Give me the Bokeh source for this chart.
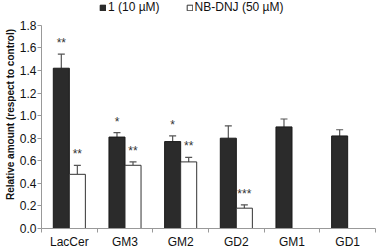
from bokeh.plotting import figure
from bokeh.models import (ColumnDataSource, FixedTicker, Range1d, Whisker, TeeHead,
                          Legend, LegendItem)
from bokeh.transform import dodge
from bokeh.core.properties import value
from bokeh.embed import file_html
from bokeh.resources import INLINE

categories = ["LacCer", "GM3", "GM2", "GD2", "GM1", "GD1"]
cmpd1 = [1.42, 0.81, 0.77, 0.80, 0.90, 0.82]
cmpd1_err = [0.125, 0.04, 0.05, 0.11, 0.07, 0.055]
cmpd1_sig = ["**", "*", "*", "", "", ""]
nbdnj_cats = ["LacCer", "GM3", "GM2", "GD2"]
nbdnj = [0.48, 0.56, 0.59, 0.18]
nbdnj_err = [0.08, 0.03, 0.04, 0.03]
nbdnj_sig = ["**", "**", "**", "***"]
y_ticks = [0.0, 0.2, 0.4, 0.6, 0.8, 1.0, 1.2, 1.4, 1.6, 1.8]

FONT = "Liberation Sans"
BW = 0.288

pos1 = [categories.index(c) + 0.5 for c in categories]
pos2 = [categories.index(c) + 0.5 for c in nbdnj_cats]

src1 = ColumnDataSource(dict(x=pos1, top=cmpd1,
                             up=[v + e for v, e in zip(cmpd1, cmpd1_err)],
                             sig=cmpd1_sig))
src2 = ColumnDataSource(dict(x=pos2, top=nbdnj,
                             up=[v + e for v, e in zip(nbdnj, nbdnj_err)],
                             sig=nbdnj_sig))

p = figure(width=378, height=251, output_backend="svg", toolbar_location=None,
           x_range=Range1d(0, len(categories)), y_range=Range1d(0, 2.02),
           min_border_left=41, min_border_right=3, min_border_top=0, min_border_bottom=20)
p.outline_line_color = None
p.xgrid.visible = False
p.ygrid.visible = False
p.background_fill_color = "white"

dark = "#2b2b2b"
r1 = p.vbar(x=dodge("x", -BW / 2), top="top", width=BW, bottom=0, source=src1,
            fill_color=dark, line_color="#1a1a1a", line_width=1)
r2 = p.vbar(x=dodge("x", BW / 2), top="top", width=BW, bottom=0, source=src2,
            fill_color="white", line_color="#333333", line_width=1)

for src, off in ((src1, -BW / 2), (src2, BW / 2)):
    w = Whisker(base=dodge("x", off), lower="top", upper="up", source=src,
                line_color="#555555", line_width=1.2,
                upper_head=TeeHead(size=7, line_color="#555555", line_width=1.2),
                lower_head=None)
    p.add_layout(w)
    p.text(x=dodge("x", off), y="up", text="sig", source=src,
           text_font=value(FONT), text_font_size="12px", text_color="#333333",
           text_align="center", text_baseline="middle", y_offset=-11)

# axes
p.xaxis.ticker = FixedTicker(ticks=[i + 0.5 for i in range(len(categories))],
                             minor_ticks=list(range(len(categories) + 1)))
p.xaxis.major_label_overrides = {i + 0.5: c for i, c in enumerate(categories)}
p.xaxis.major_tick_out = 0
p.xaxis.major_tick_in = 0
p.xaxis.minor_tick_out = 4
p.xaxis.minor_tick_in = 0
p.xaxis.minor_tick_line_color = "#999999"
p.xaxis.axis_line_color = "#999999"
p.xaxis.major_label_text_font = FONT
p.xaxis.major_label_text_font_size = "12px"
p.xaxis.major_label_text_color = "#111111"
p.xaxis.major_label_standoff = 2

p.yaxis.ticker = FixedTicker(ticks=y_ticks, minor_ticks=[])
p.yaxis.bounds = (0, 1.8)
p.yaxis.major_label_overrides = {t: f"{t:.1f}" for t in y_ticks}
p.yaxis.major_tick_out = 4
p.yaxis.major_tick_in = 0
p.yaxis.major_tick_line_color = "#999999"
p.yaxis.axis_line_color = "#999999"
p.yaxis.major_label_text_font = FONT
p.yaxis.major_label_text_font_size = "12px"
p.yaxis.major_label_text_color = "#111111"
p.yaxis.major_label_standoff = 1
p.yaxis.axis_label = "Relative amount (respect to control)"
p.yaxis.axis_label_text_font = FONT
p.yaxis.axis_label_text_font_size = "10px"
p.yaxis.axis_label_text_font_style = "bold"
p.yaxis.axis_label_text_color = "#111111"
p.yaxis.axis_label_standoff = 1

legend = Legend(items=[LegendItem(label="1 (10 µM)", renderers=[r1]),
                       LegendItem(label="NB-DNJ (50 µM)", renderers=[r2])],
                orientation="horizontal", location=(58, 214),
                glyph_width=7, glyph_height=7, label_standoff=2, spacing=26,
                padding=0, margin=0, label_height=12,
                label_text_font=FONT, label_text_font_size="12px",
                label_text_color="#111111",
                border_line_color=None, background_fill_alpha=0)
p.add_layout(legend)

open("out.html", "w").write(file_html(p, INLINE))
